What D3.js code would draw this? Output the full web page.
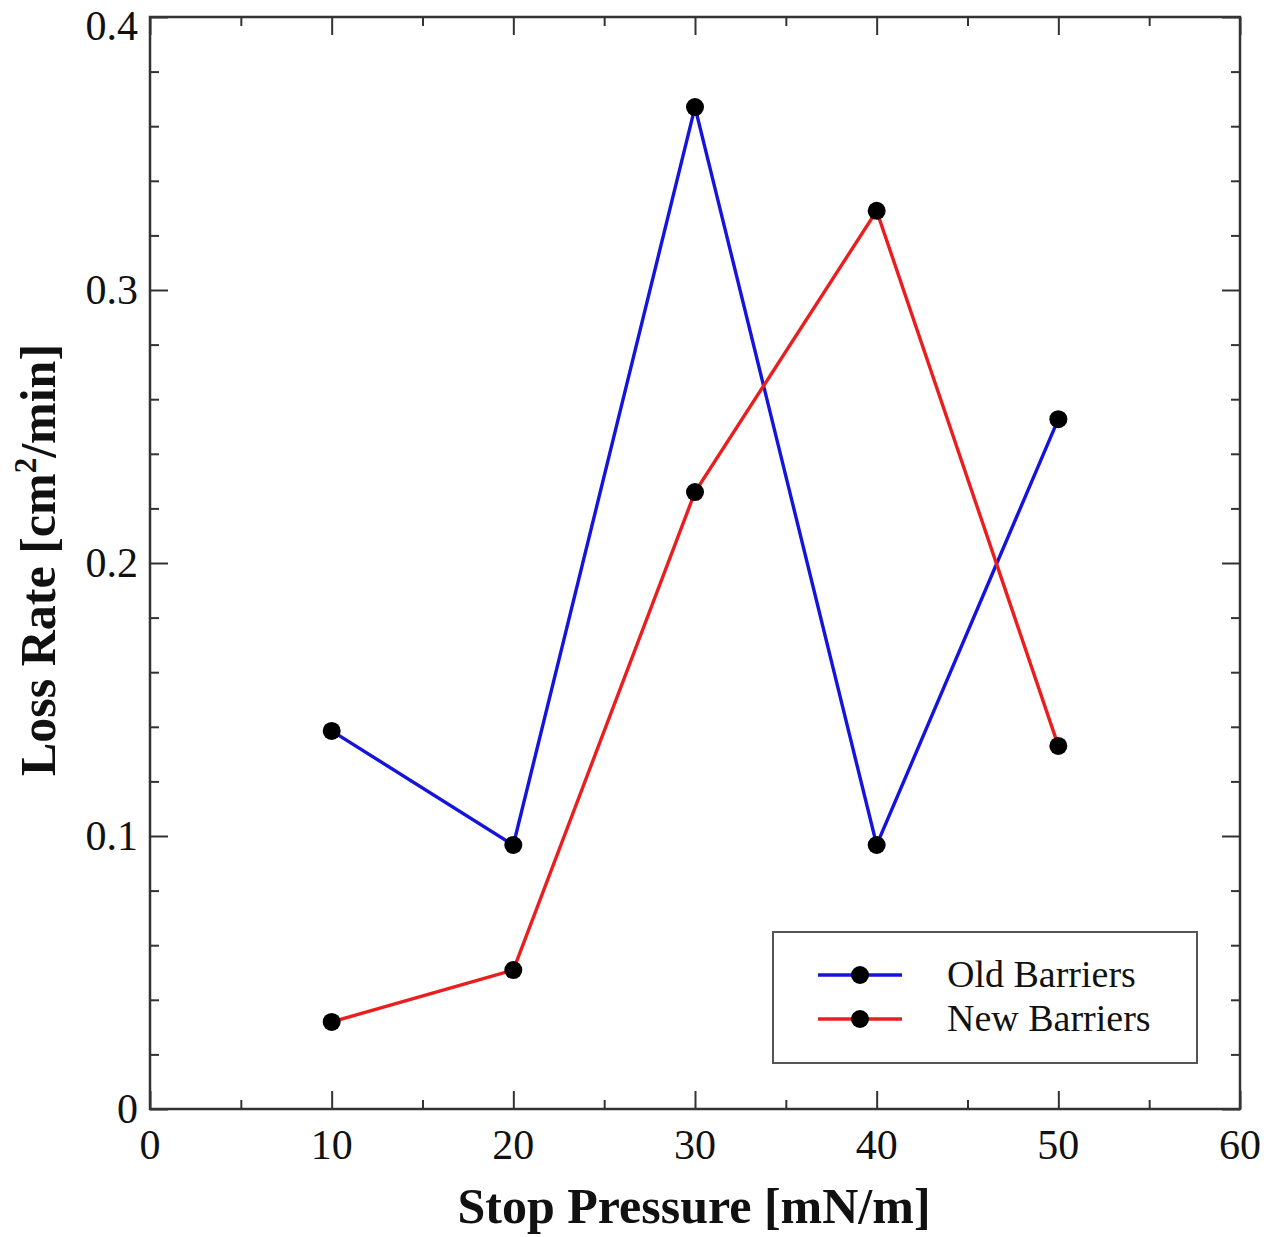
<!DOCTYPE html>
<html lang="en">
<head>
    <title>Loss Rate vs Stop Pressure</title>
    <script src="https://d3js.org/d3.v7.min.js"></script>
    <style>
        body { margin: 0; background: #fff; }
        text { font-family: "Liberation Serif", "Times New Roman", serif; fill: #111; }
    </style>
</head>
<body>
<script>
    // data
    const pressures   = [10, 20, 30, 40, 50];
    const oldBarriers = [0.1385, 0.0967, 0.367, 0.0967, 0.2527];
    const newBarriers = [0.0319, 0.0509, 0.226, 0.329, 0.133];
    const seriesNames = ["Old Barriers", "New Barriers"];
    const seriesColors = ["#1414dc", "#ea1e1e"];
    const xTicks = [0, 10, 20, 30, 40, 50, 60];
    const yTicks = [0, 0.1, 0.2, 0.3, 0.4];

    // dimensions
    const W = 1270, H = 1237;
    const plotL = 150, plotR = 1240, plotT = 17, plotB = 1109;

    const svg = d3.select("body").append("svg")
        .attr("width", W).attr("height", H);

    const x = d3.scaleLinear().domain([0, 60]).range([plotL, plotR]);
    const y = d3.scaleLinear().domain([0, 0.4]).range([plotB, plotT]);

    const xMinor = d3.range(0, 61, 5).filter(v => v % 10 !== 0);
    const yMinor = d3.range(0, 41, 2).map(v => v / 100).filter(v => Math.round(v * 100) % 10 !== 0);

    // ticks on all four sides, pointing inward
    function tickAxis(axisFn, scale, vals, size, transform) {
        svg.append("g")
            .attr("transform", transform)
            .call(axisFn(scale).tickValues(vals).tickSize(-size).tickFormat(""))
            .call(g => g.select(".domain").remove())
            .call(g => g.selectAll("line").attr("stroke", "#333").attr("stroke-width", 2));
    }
    tickAxis(d3.axisBottom, x, xTicks, 18, `translate(0,${plotB})`);
    tickAxis(d3.axisBottom, x, xMinor, 9, `translate(0,${plotB})`);
    tickAxis(d3.axisTop, x, xTicks, 18, `translate(0,${plotT})`);
    tickAxis(d3.axisTop, x, xMinor, 9, `translate(0,${plotT})`);
    tickAxis(d3.axisLeft, y, yTicks, 18, `translate(${plotL},0)`);
    tickAxis(d3.axisLeft, y, yMinor, 9, `translate(${plotL},0)`);
    tickAxis(d3.axisRight, y, yTicks, 18, `translate(${plotR},0)`);
    tickAxis(d3.axisRight, y, yMinor, 9, `translate(${plotR},0)`);

    // frame
    svg.append("rect")
        .attr("x", plotL).attr("y", plotT)
        .attr("width", plotR - plotL).attr("height", plotB - plotT)
        .attr("fill", "none").attr("stroke", "#333").attr("stroke-width", 2.5);

    // tick labels
    svg.append("g").selectAll("text")
        .data(xTicks).enter().append("text")
        .attr("x", d => x(d)).attr("y", plotB + 50)
        .attr("text-anchor", "middle")
        .style("font-size", "42px")
        .text(d => d);
    svg.append("g").selectAll("text")
        .data(yTicks).enter().append("text")
        .attr("x", plotL - 12).attr("y", d => Math.max(y(d) + 14, 40)) // top label pushed down to stay on the page
        .attr("text-anchor", "end")
        .style("font-size", "42px")
        .text(d => d === 0 ? "0" : d.toFixed(1));

    // axis titles
    svg.append("text")
        .attr("x", (plotL + plotR) / 2 - 1).attr("y", 1223)
        .attr("text-anchor", "middle")
        .style("font-size", "50px").style("font-weight", "bold")
        .text("Stop Pressure [mN/m]");
    const yt = svg.append("text")
        .attr("transform", `translate(55,560) rotate(-90)`)
        .attr("text-anchor", "middle")
        .style("font-size", "50px").style("font-weight", "bold");
    yt.append("tspan").text("Loss Rate [cm");
    yt.append("tspan").attr("dy", -19).style("font-size", "31px").text("2");
    yt.append("tspan").attr("dy", 19).text("/min]");

    // lines and markers
    const series = [oldBarriers, newBarriers];
    const line = d3.line().x((d, i) => x(pressures[i])).y(d => y(d));
    series.forEach((vals, s) => {
        svg.append("path")
            .datum(vals)
            .attr("fill", "none")
            .attr("stroke", seriesColors[s])
            .attr("stroke-width", 3.4)
            .attr("d", line);
    });
    series.forEach(vals => {
        svg.append("g").selectAll("circle")
            .data(vals).enter().append("circle")
            .attr("cx", (d, i) => x(pressures[i]))
            .attr("cy", d => y(d))
            .attr("r", 9)
            .attr("fill", "#000");
    });

    // legend
    const lg = svg.append("g");
    lg.append("rect")
        .attr("x", 773).attr("y", 932).attr("width", 424).attr("height", 131)
        .attr("fill", "#fff").attr("stroke", "#555").attr("stroke-width", 2);
    seriesNames.forEach((name, i) => {
        const ry = 975 + i * 44;
        lg.append("line")
            .attr("x1", 818).attr("x2", 902).attr("y1", ry).attr("y2", ry)
            .attr("stroke", seriesColors[i]).attr("stroke-width", 3.4);
        lg.append("circle").attr("cx", 860).attr("cy", ry).attr("r", 9).attr("fill", "#000");
        lg.append("text")
            .attr("x", 947).attr("y", ry + 12)
            .style("font-size", "38px")
            .text(name);
    });
</script>
</body>
</html>
